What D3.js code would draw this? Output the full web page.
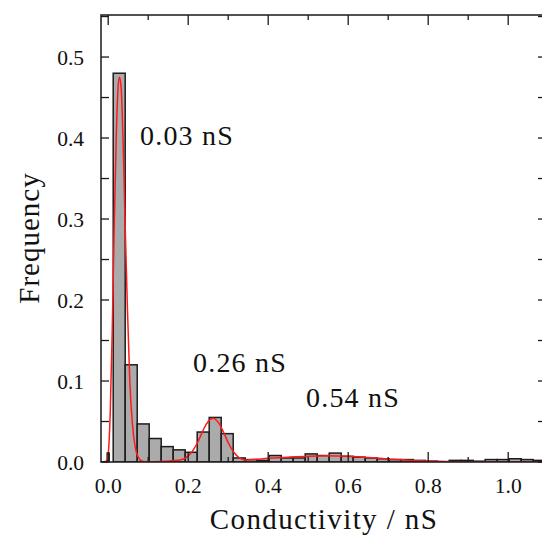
<!DOCTYPE html>
<html lang="en">
<head>
    <meta charset="UTF-8">
    <title>Conductivity histogram</title>
    <script src="https://d3js.org/d3.v7.min.js"></script>
    <style>
        body {
            margin: 0;
            background: #ffffff;
        }
    </style>
</head>
<body>
<div id="chart"></div>
<script>
// Histogram bins (left edge, nS) and frequencies
const binWidth = 0.03;
const binLeft = [
    0.0125, 0.0425, 0.0725, 0.1025, 0.1325, 0.1625, 0.1925, 0.2225, 0.2525,
    0.2825, 0.3125, 0.3425, 0.3725, 0.4025, 0.4325, 0.4625, 0.4925, 0.5225,
    0.5525, 0.5825, 0.6125, 0.6425, 0.6725, 0.7025, 0.7325, 0.7625, 0.7925,
    0.8225, 0.8525, 0.8825, 0.9125, 0.9425, 0.9725, 1.0025, 1.0325, 1.0625
];
const frequency = [
    0.480, 0.120, 0.047, 0.029, 0.019, 0.015, 0.012, 0.037, 0.055,
    0.035, 0.005, 0.003, 0.002, 0.008, 0.005, 0.005, 0.010, 0.008,
    0.011, 0.007, 0.006, 0.005, 0.004, 0.003, 0.003, 0.002, 0.001,
    0.0005, 0.002, 0.002, 0.001, 0.003, 0.003, 0.004, 0.003, 0.002
];
// narrow bin right at zero
const zeroBin = { x0: -0.0025, x1: 0.0025, f: 0.011 };

// fitted curve (red)
const fitX = [
    -0.018, -0.005, 0.0, 0.005, 0.01, 0.015, 0.02, 0.025, 0.028, 0.032,
    0.037, 0.042, 0.048, 0.054, 0.06, 0.067, 0.075, 0.085, 0.1, 0.13,
    0.16, 0.18, 0.19, 0.2, 0.21, 0.22, 0.23, 0.24, 0.25, 0.262,
    0.275, 0.29, 0.3, 0.31, 0.32, 0.33, 0.34, 0.36, 0.4, 0.45,
    0.5, 0.55, 0.6, 0.65, 0.7, 0.75, 0.8, 0.85, 0.9, 1.0, 1.1
];
const fitY = [
    0.0, 0.001, 0.01, 0.06, 0.16, 0.29, 0.40, 0.465, 0.475, 0.465,
    0.40, 0.30, 0.19, 0.10, 0.05, 0.02, 0.006, 0.001, 0.0002, 0.0005,
    0.0015, 0.0025, 0.004, 0.0075, 0.013, 0.021, 0.031, 0.042, 0.050, 0.054,
    0.049, 0.035, 0.024, 0.015, 0.0085, 0.0045, 0.0025, 0.003, 0.0045, 0.006,
    0.0072, 0.0077, 0.007, 0.0055, 0.0038, 0.0022, 0.0011, 0.0004, 0.0001, 0.0, 0.0
];

const peakLabels = [
    { text: "0.03 nS", x: 140, y: 145 },
    { text: "0.26 nS", x: 193, y: 372 },
    { text: "0.54 nS", x: 306, y: 407 }
];

const xTicks = [0.0, 0.2, 0.4, 0.6, 0.8, 1.0];
const yTicks = [0.0, 0.1, 0.2, 0.3, 0.4, 0.5];

const width = 542, height = 535;
const m = { left: 101, right: 546, top: 15, bottom: 462 };
const serif = "'Liberation Serif', 'DejaVu Serif', 'Times New Roman', Times, 'Noto Serif', serif";

const svg = d3.select("#chart")
    .append("svg")
    .attr("width", width)
    .attr("height", height)
    .attr("font-family", serif);

const x = d3.scaleLinear().domain([-0.018, 1.0945]).range([m.left, m.right]);
const y = d3.scaleLinear().domain([0, 0.5519]).range([m.bottom, m.top]);

svg.append("clipPath").attr("id", "plot-clip")
    .append("rect")
    .attr("x", m.left).attr("y", m.top)
    .attr("width", m.right - m.left).attr("height", m.bottom - m.top);

const plot = svg.append("g").attr("clip-path", "url(#plot-clip)");

// bars
const bins = binLeft.map((b, i) => ({ x0: b, x1: b + binWidth, f: frequency[i] }));
bins.unshift(zeroBin);

plot.selectAll("rect.bar")
    .data(bins)
    .enter()
    .append("rect")
    .attr("class", "bar")
    .attr("x", d => x(d.x0))
    .attr("y", d => y(d.f))
    .attr("width", d => x(d.x1) - x(d.x0))
    .attr("height", d => y(0) - y(d.f))
    .attr("fill", "#ababab")
    .attr("stroke", "#1c1c1c")
    .attr("stroke-width", 1.5);

// fit curve
const line = d3.line()
    .x(d => x(d[0]))
    .y(d => y(d[1]))
    .curve(d3.curveMonotoneX);

plot.append("path")
    .datum(fitX.map((v, i) => [v, fitY[i]]))
    .attr("d", line)
    .attr("fill", "none")
    .attr("stroke", "#ff1a1a")
    .attr("stroke-width", 1.5);

// axes with inward ticks on all four sides
const axisColor = "#1a1a1a";
const axes = svg.append("g");

function drawTicks(values, len) {
    values.forEach(v => {
        const px = x(v);
        if (px < m.left || px > m.right) return;
        axes.append("line").attr("x1", px).attr("x2", px)
            .attr("y1", m.bottom).attr("y2", m.bottom - len)
            .attr("stroke", axisColor).attr("stroke-width", 1.3);
        axes.append("line").attr("x1", px).attr("x2", px)
            .attr("y1", m.top).attr("y2", m.top + len)
            .attr("stroke", axisColor).attr("stroke-width", 1.3);
    });
}
drawTicks(d3.range(0, 1.1, 0.2), 10);
drawTicks(d3.range(0.1, 1.1, 0.2), 5);

d3.range(0, 0.56, 0.05).forEach(v => {
    const py = y(v);
    axes.append("line").attr("x1", m.left).attr("x2", m.left + 8)
        .attr("y1", py).attr("y2", py)
        .attr("stroke", axisColor).attr("stroke-width", 1.3);
    axes.append("line").attr("x1", m.right).attr("x2", m.right - 8)
        .attr("y1", py).attr("y2", py)
        .attr("stroke", axisColor).attr("stroke-width", 1.3);
});

axes.append("rect")
    .attr("x", m.left).attr("y", m.top)
    .attr("width", m.right - m.left).attr("height", m.bottom - m.top)
    .attr("fill", "none")
    .attr("stroke", axisColor)
    .attr("stroke-width", 1.5);

// tick labels
svg.selectAll("text.xtick")
    .data(xTicks)
    .enter()
    .append("text")
    .attr("class", "xtick")
    .attr("x", d => x(d))
    .attr("y", 493)
    .attr("text-anchor", "middle")
    .attr("font-size", "21.5px")
    .attr("fill", "#111")
    .text(d => d3.format(".1f")(d));

svg.selectAll("text.ytick")
    .data(yTicks)
    .enter()
    .append("text")
    .attr("class", "ytick")
    .attr("x", 84)
    .attr("y", d => y(d) + 7.5)
    .attr("text-anchor", "end")
    .attr("font-size", "21.5px")
    .attr("fill", "#111")
    .text(d => d3.format(".1f")(d));

// axis titles
svg.append("text")
    .attr("x", 324)
    .attr("y", 529)
    .attr("text-anchor", "middle")
    .attr("font-size", "29px")
    .attr("letter-spacing", "1.4px")
    .attr("fill", "#111")
    .text("Conductivity / nS");

svg.append("text")
    .attr("transform", "translate(39,238) rotate(-90)")
    .attr("text-anchor", "middle")
    .attr("font-size", "29px")
    .attr("letter-spacing", "1px")
    .attr("fill", "#111")
    .text("Frequency");

// peak annotations
svg.selectAll("text.peak")
    .data(peakLabels)
    .enter()
    .append("text")
    .attr("class", "peak")
    .attr("x", d => d.x)
    .attr("y", d => d.y)
    .attr("font-size", "28px")
    .attr("letter-spacing", "1.2px")
    .attr("fill", "#111")
    .text(d => d.text);
</script>
</body>
</html>
